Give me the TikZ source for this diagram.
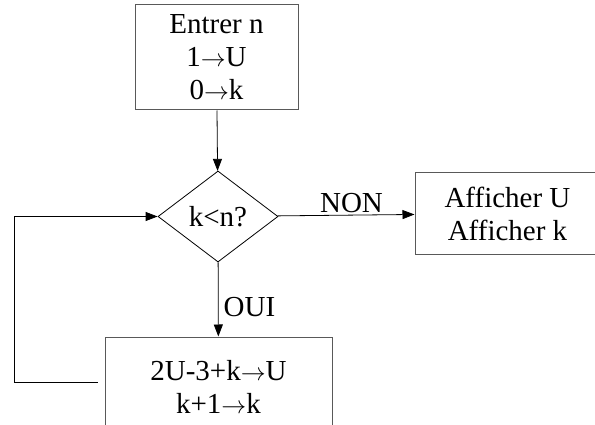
\documentclass[tikz,border=0pt]{standalone}
\usepackage{fontspec}
\setmainfont{Liberation Serif}
\usetikzlibrary{shapes.geometric,arrows.meta}
\newcommand{\fl}{\ensuremath{\rightarrow}}

\begin{document}
\begin{tikzpicture}[x=1pt,y=-1pt,
    every node/.style={font=\fontsize{29}{33}\selectfont,align=center,inner sep=0},
    bloc/.style={draw=black!65,line width=1pt,rectangle},
    test/.style={draw,line width=0.8pt,diamond},
    fleche/.style={line width=0.8pt,-{Triangle[length=12pt,width=9pt]}}]
        \useasboundingbox (0,0) rectangle (595,425);
        \clip (0,0) rectangle (595,425);
        \node[bloc,minimum width=163pt,minimum height=105pt] (debut) at (216.5,57.5) {Entrer n\\1\fl U\\0\fl k};
        \node[test,minimum width=120pt,minimum height=91pt] (cond) at (218,216.5) {k<n?};
        \node[bloc,minimum width=185pt,minimum height=81pt] (fin) at (507.5,213.5) {Afficher U\\Afficher k};
        \node[bloc,minimum width=227pt,minimum height=100pt] (calc) at (218.5,387) {2U-3+k\fl U\\k+1\fl k};
        \coordinate (coin) at (14,382);
        \draw[fleche] (debut) -- (cond);
        \draw[fleche] (cond) -- node[pos=0.54,above=2pt] (non) {NON} (fin);
        \draw[fleche] (cond) -- node[pos=0.6,right=5pt] (oui) {OUI} (calc);
        \draw[fleche] ([xshift=-7pt,yshift=5pt]calc.west) -- (coin) |- (cond.west);
      \end{tikzpicture}
\end{document}
